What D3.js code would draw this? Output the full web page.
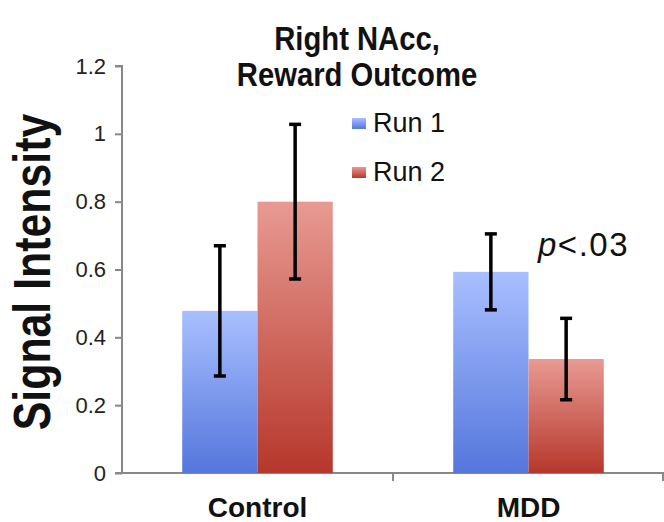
<!DOCTYPE html>
<html>
<head>
	<title>Right NAcc, Reward Outcome</title>
	<script src="https://d3js.org/d3.v7.min.js"></script>
	<style>
		body { margin: 0; background: #fff; }
		svg text { font-family: "Liberation Sans", Arial, sans-serif; }
	</style>
</head>
<body>
	<script>
		// chart data
		var groups = ["Control", "MDD"];
		var series = ["Run 1", "Run 2"];
		var run1 = [0.478, 0.593];
		var run2 = [0.800, 0.336];
		var run1Err = [0.192, 0.112];
		var run2Err = [0.228, 0.120];
		var yTicks = [0, 0.2, 0.4, 0.6, 0.8, 1, 1.2];

		var width = 664, height = 522;
		var margin = {left: 122, right: 0, top: 66, bottom: 49};

		var svg = d3.select("body").append("svg")
			.attr("width", width)
			.attr("height", height);

		// gradients for the bars
		var defs = svg.append("defs");
		var grads = [["gBlue", "#a8bfff", "#5576dc"], ["gRed", "#e89a92", "#b6372b"]];
		grads.forEach(function(g) {
			var lg = defs.append("linearGradient").attr("id", g[0])
				.attr("x1", 0).attr("y1", 0).attr("x2", 0).attr("y2", 1);
			lg.append("stop").attr("offset", "0%").attr("stop-color", g[1]);
			lg.append("stop").attr("offset", "100%").attr("stop-color", g[2]);
		});
		var fills = ["url(#gBlue)", "url(#gRed)"];

		var y = d3.scaleLinear().domain([0, 1.2])
			.range([height - margin.bottom, margin.top]);
		var x = d3.scaleBand().domain(groups)
			.range([margin.left, width - margin.right]);
		var xs = d3.scaleBand().domain(series)
			.range([0, x.bandwidth()]).paddingOuter(0.8).paddingInner(0);

		// y axis
		var yAxis = svg.append("g")
			.attr("transform", "translate(" + margin.left + ",0)")
			.call(d3.axisLeft(y).tickValues(yTicks).tickSize(7).tickPadding(9)
				.tickFormat(function(d) { return d3.format("")(+d.toFixed(1)); }));
		yAxis.selectAll("path, line").attr("stroke", "#888").attr("stroke-width", 2);
		yAxis.select(".domain").attr("d", "M-7," + y(1.2) + "H0V" + y(0));
		yAxis.selectAll("text").attr("font-size", 22).attr("fill", "#222");

		// x axis
		var xAxis = svg.append("g")
			.attr("transform", "translate(0," + y(0) + ")")
			.call(d3.axisBottom(x).tickSize(0).tickPadding(24));
		xAxis.select(".domain").attr("stroke", "#888").attr("stroke-width", 2)
			.attr("d", "M" + (margin.left - 7) + ",0H" + width);
		xAxis.selectAll("text").attr("font-size", 28).attr("font-weight", "bold")
			.attr("fill", "#111");
		// category separator ticks
		xAxis.selectAll("line.sep")
			.data(groups.slice(1).concat(["end"]))
			.enter().append("line")
			.attr("class", "sep")
			.attr("x1", function(d, i) { return i === 0 ? x(d) : width - 1; })
			.attr("x2", function(d, i) { return i === 0 ? x(d) : width - 1; })
			.attr("y1", 0).attr("y2", 8)
			.attr("stroke", "#888").attr("stroke-width", 2);

		// bars
		var rows = [];
		groups.forEach(function(g, gi) {
			rows.push({g: g, s: series[0], v: run1[gi], e: run1Err[gi], i: 0});
			rows.push({g: g, s: series[1], v: run2[gi], e: run2Err[gi], i: 1});
		});

		svg.selectAll("rect.bar").data(rows).enter().append("rect")
			.attr("class", "bar")
			.attr("x", function(d) { return x(d.g) + xs(d.s); })
			.attr("width", xs.bandwidth())
			.attr("y", function(d) { return y(d.v); })
			.attr("height", function(d) { return y(0) - y(d.v); })
			.attr("fill", function(d) { return fills[d.i]; });

		// error bars
		var eb = svg.selectAll("g.err").data(rows).enter().append("g")
			.attr("class", "err")
			.attr("transform", function(d) {
				return "translate(" + (x(d.g) + xs(d.s) + xs.bandwidth() / 2) + ",0)";
			})
			.attr("stroke", "#000").attr("stroke-width", 3.5);
		eb.append("line")
			.attr("y1", function(d) { return y(d.v - d.e); })
			.attr("y2", function(d) { return y(d.v + d.e); });
		eb.append("line").attr("x1", -6).attr("x2", 6)
			.attr("y1", function(d) { return y(d.v + d.e); })
			.attr("y2", function(d) { return y(d.v + d.e); });
		eb.append("line").attr("x1", -6).attr("x2", 6)
			.attr("y1", function(d) { return y(d.v - d.e); })
			.attr("y2", function(d) { return y(d.v - d.e); });

		// title (condensed bold)
		var title = svg.append("g").attr("transform", "translate(357,0) scale(0.86,1)");
		title.append("text").attr("y", 50).attr("text-anchor", "middle")
			.attr("font-size", 34).attr("font-weight", "bold").attr("fill", "#111")
			.text("Right NAcc,");
		title.append("text").attr("y", 86).attr("text-anchor", "middle")
			.attr("font-size", 34).attr("font-weight", "bold").attr("fill", "#111")
			.text("Reward Outcome");

		// y label (condensed bold)
		svg.append("text")
			.attr("transform", "translate(50,272) rotate(-90) scale(0.84,1)")
			.attr("text-anchor", "middle")
			.attr("font-size", 51).attr("font-weight", "bold").attr("fill", "#111")
			.text("Signal Intensity");

		// legend
		var leg = svg.selectAll("g.leg").data(series).enter().append("g")
			.attr("class", "leg")
			.attr("transform", function(d, i) { return "translate(352," + (118 + i * 49) + ")"; });
		leg.append("rect").attr("width", 14).attr("height", 11)
			.attr("fill", function(d, i) { return fills[i]; });
		leg.append("text").attr("x", 21).attr("y", 14)
			.attr("font-size", 27).attr("fill", "#111")
			.text(function(d) { return d; });

		// significance note
		var note = svg.append("text").attr("x", 538).attr("y", 256)
			.attr("font-size", 33).attr("letter-spacing", 1.5).attr("fill", "#111");
		note.append("tspan").attr("font-style", "italic").text("p");
		note.append("tspan").text("<.03");
	</script>
</body>
</html>
